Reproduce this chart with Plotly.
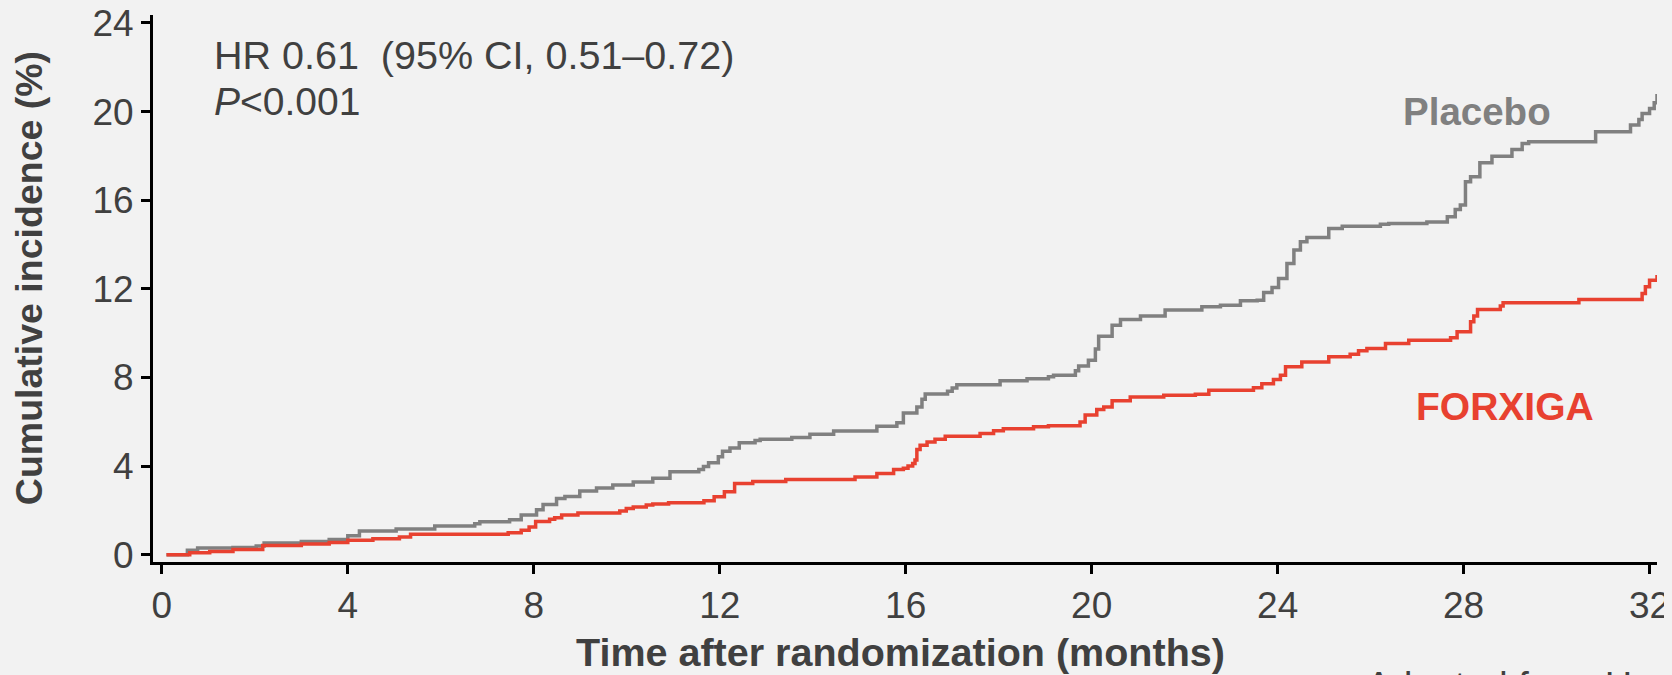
import plotly.graph_objects as go

# ---- data ----
placebo_months = [0.1, 0.55, 0.77, 1.53, 2.03, 2.2, 3.0, 3.6, 4.0, 4.25, 5.04, 5.87, 6.73, 6.84,
                  7.48, 7.73, 8.06, 8.2, 8.49, 8.67, 8.99, 9.35, 9.7, 10.14, 10.56, 10.93, 11.55,
                  11.65, 11.76, 11.97, 12.06, 12.22, 12.42, 12.76, 12.87, 13.55, 13.94, 14.45,
                  15.38, 15.81, 15.95, 16.24, 16.35, 16.42, 16.9, 17.0, 17.1, 18.03, 18.61, 19.07,
                  19.18, 19.65, 19.72, 19.93, 20.08, 20.15, 20.44, 20.62, 21.05, 21.58, 22.37,
                  22.77, 23.2, 23.56, 23.7, 23.88, 24.02, 24.2, 24.35, 24.49, 24.63, 25.1, 25.39,
                  26.21, 26.39, 27.21, 27.65, 27.82, 27.93, 28.04, 28.15, 28.35, 28.61, 29.04,
                  29.26, 29.4, 30.84, 31.59, 31.77, 31.84, 32.0, 32.1, 32.16]
placebo_pct = [0.0, 0.2, 0.3, 0.33, 0.39, 0.53, 0.6, 0.68, 0.86, 1.07, 1.16, 1.29, 1.40, 1.49,
               1.58, 1.79, 2.03, 2.26, 2.54, 2.63, 2.87, 3.01, 3.15, 3.28, 3.45, 3.74, 3.85,
               3.98, 4.15, 4.42, 4.67, 4.82, 5.05, 5.15, 5.21, 5.29, 5.44, 5.58,
               5.80, 5.95, 6.40, 6.67, 7.02, 7.25, 7.38, 7.52, 7.67, 7.85, 7.94, 8.03,
               8.10, 8.30, 8.52, 8.78, 9.28, 9.86, 10.36, 10.62, 10.77, 11.04, 11.19,
               11.26, 11.46, 11.49, 11.83, 12.06, 12.47, 13.14, 13.75, 14.12, 14.32, 14.72, 14.83,
               14.92, 14.95, 15.02, 15.25, 15.58, 15.78, 16.83, 17.06, 17.69, 17.99, 18.29,
               18.56, 18.64, 19.09, 19.39, 19.64, 19.91, 20.14, 20.4, 20.79]

forxiga_months = [0.1, 0.6, 1.03, 1.53, 2.17, 3.0, 3.6, 4.0, 4.54, 5.11, 5.35, 7.45, 7.73, 7.9,
                  8.04, 8.34, 8.45, 8.6, 8.95, 9.85, 9.99, 10.14, 10.42, 10.56, 10.9, 11.66,
                  11.88, 12.1, 12.32, 12.71, 13.42, 14.91, 15.38, 15.74, 15.95, 16.05, 16.15,
                  16.2, 16.24, 16.31, 16.46, 16.63, 16.85, 17.6, 17.89, 18.1, 18.75, 19.07, 19.75,
                  19.86, 20.11, 20.26, 20.44, 20.83, 21.55, 22.23, 22.52, 23.48, 23.66, 23.91,
                  24.06, 24.17, 24.52, 25.1, 25.56, 25.74, 25.92, 26.32, 26.82, 27.72, 27.86,
                  28.15, 28.22, 28.3, 28.79, 28.85, 30.48, 31.84, 31.91, 32.0, 32.16]
forxiga_pct = [0.0, 0.09, 0.14, 0.23, 0.41, 0.48, 0.55, 0.65, 0.72, 0.80, 0.92, 0.99, 1.10, 1.25,
               1.50, 1.60, 1.67, 1.79, 1.88, 1.97, 2.08, 2.15, 2.24, 2.29, 2.34, 2.43,
               2.61, 2.84, 3.21, 3.30, 3.39, 3.51, 3.66, 3.84, 3.90, 4.00, 4.12,
               4.27, 4.75, 4.94, 5.09, 5.21, 5.35, 5.47, 5.59, 5.68, 5.77, 5.82, 5.99,
               6.30, 6.55, 6.67, 6.95, 7.12, 7.20, 7.24, 7.42, 7.54, 7.72, 7.91,
               8.10, 8.48, 8.70, 8.93, 9.05, 9.20, 9.31, 9.53, 9.68, 9.79, 10.06,
               10.51, 10.77, 11.07, 11.22, 11.37, 11.52, 11.79, 12.09, 12.39, 12.62]

x_ticks = [0, 4, 8, 12, 16, 20, 24, 28, 32]
y_ticks = [0, 4, 8, 12, 16, 20, 24]

GRAY = "#808080"
RED = "#E84130"
TXT = "#404040"
BG = "#F2F2F2"
FONT = "Liberation Sans, Arial, sans-serif"

fig = go.Figure()
fig.add_trace(go.Scatter(x=placebo_months, y=placebo_pct, mode="lines", line_shape="hv",
                         line=dict(color=GRAY, width=3.5), name="Placebo", showlegend=False,
                         hoverinfo="skip"))
fig.add_trace(go.Scatter(x=forxiga_months, y=forxiga_pct, mode="lines", line_shape="hv",
                         line=dict(color=RED, width=3.5), name="FORXIGA", showlegend=False,
                         hoverinfo="skip"))

axis_common = dict(showline=True, linewidth=3, linecolor="black", ticks="outside",
                   ticklen=9, tickwidth=2.5, tickcolor="black", showgrid=False,
                   zeroline=False, automargin=False, ticklabeloverflow="allow",
                   tickfont=dict(family=FONT, size=37, color=TXT))

fig.update_xaxes(range=[-0.19, 32.16], tickvals=x_ticks, ticktext=[str(v) for v in x_ticks],
                 **axis_common)
fig.update_yaxes(range=[-0.33, 24.36], tickvals=y_ticks, ticktext=[str(v) for v in y_ticks],
                 **axis_common)

annotations = [
    dict(text="HR 0.61\u00a0 (95% CI, 0.51\u20130.72)", x=0.039, y=0.926, xanchor="left",
         yanchor="middle", font=dict(family=FONT, size=39.5, color=TXT)),
    dict(text="<i>P</i><0.001", x=0.039, y=0.842, xanchor="left", yanchor="middle",
         font=dict(family=FONT, size=39, color=TXT)),
    dict(text="<b>Placebo</b>", x=0.8803, y=0.8236, xanchor="center", yanchor="middle",
         font=dict(family=FONT, size=38.5, color=GRAY)),
    dict(text="<b>FORXIGA</b>", x=0.899, y=0.2843, xanchor="center", yanchor="middle",
         font=dict(family=FONT, size=39, color=RED)),
    dict(text="<b>Cumulative incidence (%)</b>", x=-0.0824, y=0.519, xanchor="center",
         yanchor="middle", textangle=-90, font=dict(family=FONT, size=37.5, color=TXT)),
    dict(text="<b>Time after randomization (months)</b>", x=0.4973, y=-0.1645,
         xanchor="center", yanchor="middle", font=dict(family=FONT, size=39.5, color=TXT)),
    dict(text="Adapted from Heerspink HJL, et al.", x=0.8055, y=-0.2265, xanchor="left",
         yanchor="middle", font=dict(family=FONT, size=38, color=TXT)),
]
for a in annotations:
    a.update(xref="paper", yref="paper", showarrow=False)

# the page body has an 8px margin, so the figure is 8px smaller and margins compensate
fig.update_layout(width=1664, height=667, margin=dict(l=145, r=15, t=7, b=113),
                  paper_bgcolor=BG, plot_bgcolor=BG, annotations=annotations,
                  font=dict(family=FONT, color=TXT))

fig.write_html("out.html", post_script="document.body.style.background='#F2F2F2';")
